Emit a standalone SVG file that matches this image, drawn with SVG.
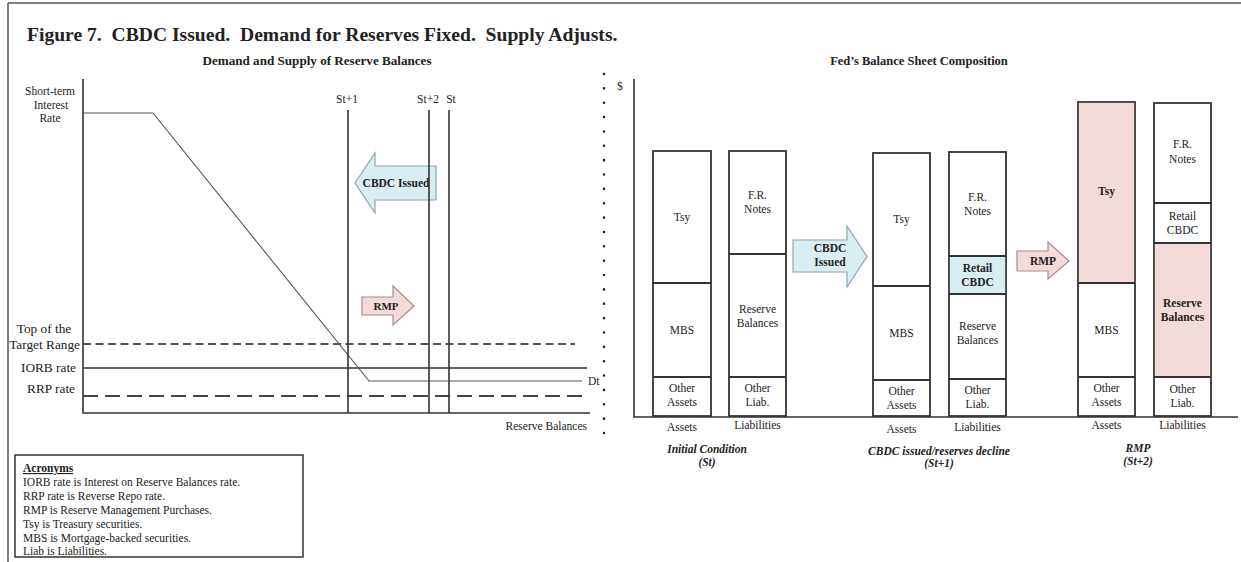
<svg xmlns="http://www.w3.org/2000/svg" width="1241" height="562" viewBox="0 0 1241 562">
<style>
text{font-family:"Liberation Serif","Times New Roman",serif;fill:#222;}
.t{font-size:19.6px;font-weight:bold;}
.h{font-size:12.5px;font-weight:bold;text-anchor:middle;}
.s{font-size:11.5px;}
.m{font-size:11.5px;text-anchor:middle;}
.l{font-size:13.3px;}
.b{font-size:11.5px;font-weight:bold;text-anchor:middle;}
.bi{font-size:11.5px;font-weight:bold;font-style:italic;text-anchor:middle;}
.ax{stroke:#333;stroke-width:1.6;fill:none;}
.bar{stroke:#333;stroke-width:1.8;fill:#fff;}
.div{stroke:#333;stroke-width:1.8;}
.blue{fill:#daedf3;}
.pink{fill:#f2dbd8;}
.arrB{fill:#daedf3;stroke:#8aa6b1;stroke-width:1.2;}
.arrP{fill:#f2dbd8;stroke:#a98c89;stroke-width:1.2;}
</style>

<g id="frame">
<line x1="8" y1="3" x2="1241" y2="3" stroke="#555" stroke-width="1.5"/>
<line x1="8" y1="3" x2="8" y2="562" stroke="#555" stroke-width="1.5"/>
</g>

<text class="t" x="27" y="41" xml:space="preserve">Figure 7.  CBDC Issued.  Demand for Reserves Fixed.  Supply Adjusts.</text>

<g id="left-chart">
<text class="h" x="317" y="65" textLength="229" lengthAdjust="spacingAndGlyphs">Demand and Supply of Reserve Balances</text>
<text class="m" x="50" y="95">Short-term</text>
<text class="m" x="51" y="109">Interest</text>
<text class="m" x="50" y="122">Rate</text>
<text class="l" x="44" y="333" text-anchor="middle">Top of the</text>
<text class="l" x="80" y="349" text-anchor="end">Target Range</text>
<text class="l" x="76" y="372" text-anchor="end">IORB rate</text>
<text class="l" x="75" y="393" text-anchor="end">RRP rate</text>
<text class="s" x="587" y="430" text-anchor="end">Reserve Balances</text>
<text class="s" x="588" y="385">Dt</text>
<text class="m" x="347" y="103">St+1</text>
<text class="m" x="428" y="103">St+2</text>
<text class="m" x="451" y="103">St</text>

<line x1="83" y1="344" x2="575" y2="344" stroke="#555" stroke-width="2" stroke-dasharray="8 4.5"/>
<line x1="83" y1="368" x2="587" y2="368" stroke="#333" stroke-width="1.6"/>
<line x1="83" y1="396" x2="587" y2="396" stroke="#444" stroke-width="2" stroke-dasharray="15 7"/>
<polyline points="83,113 153,113 369,381 582,381" fill="none" stroke="#555" stroke-width="1.1"/>
</g>

<g id="left-arrows">
<polygon class="arrB" points="355,183 375,153 375,166 436,166 436,200 375,200 375,213"/>
<text class="b" x="396" y="187">CBDC Issued</text>
<polygon class="arrP" points="362,297 393,297 393,286 414,306 393,325 393,315 362,315"/>
<text class="b" x="386" y="310" style="font-size:11px">RMP</text>
</g>

<g id="supply-lines">
<line class="ax" x1="348" y1="110" x2="348" y2="413"/>
<line class="ax" x1="429" y1="110" x2="429" y2="413"/>
<line class="ax" x1="449" y1="110" x2="449" y2="413"/>
<polyline class="ax" points="83,79 83,413 590,413"/>
</g>

<g id="separator">
<line x1="604" y1="74" x2="604" y2="434" stroke="#222" stroke-width="2.6" stroke-linecap="round" stroke-dasharray="0 14.36"/>
</g>

<g id="acronyms">
<rect x="15" y="455" width="288" height="102" fill="#fff" stroke="#333" stroke-width="1.5"/>
<text class="s" x="23" y="472" font-weight="bold" text-decoration="underline">Acronyms</text>
<text class="s" x="23" y="486">IORB rate is Interest on Reserve Balances rate.</text>
<text class="s" x="23" y="500">RRP rate is Reverse Repo rate.</text>
<text class="s" x="23" y="514">RMP is Reserve Management Purchases.</text>
<text class="s" x="23" y="527.5">Tsy is Treasury securities.</text>
<text class="s" x="23" y="541.5">MBS is Mortgage-backed securities.</text>
<text class="s" x="23" y="555">Liab is Liabilities.</text>
</g>

<g id="right-chart">
<text class="h" x="919" y="65">Fed’s Balance Sheet Composition</text>
<text class="s" x="617" y="90">$</text>
<polyline class="ax" points="634,79 634,417 1238,417"/>
</g>

<g id="bar-assets-st">
<rect class="bar" x="653" y="151" width="58" height="265"/>
<line class="div" x1="653" y1="283" x2="711" y2="283"/>
<line class="div" x1="653" y1="377" x2="711" y2="377"/>
<text class="m" x="682" y="221">Tsy</text>
<text class="m" x="682" y="334">MBS</text>
<text class="m" x="682" y="392">Other</text>
<text class="m" x="682" y="406">Assets</text>
<text class="m" x="682" y="431">Assets</text>
</g>

<g id="bar-liab-st">
<rect class="bar" x="729" y="151" width="57" height="265"/>
<line class="div" x1="729" y1="254" x2="786" y2="254"/>
<line class="div" x1="729" y1="377" x2="786" y2="377"/>
<text class="m" x="757.5" y="199">F.R.</text>
<text class="m" x="757.5" y="213">Notes</text>
<text class="m" x="757.5" y="313">Reserve</text>
<text class="m" x="757.5" y="327">Balances</text>
<text class="m" x="757.5" y="392">Other</text>
<text class="m" x="757.5" y="406">Liab.</text>
<text class="m" x="757.5" y="429">Liabilities</text>
</g>
<text class="bi" x="707" y="453">Initial Condition</text>
<text class="bi" x="707" y="466">(St)</text>

<g id="arrow-cbdc">
<polygon class="arrB" points="793,240 847,240 847,226 867,256.5 847,287 847,272 793,272"/>
<text class="b" x="830" y="252">CBDC</text>
<text class="b" x="830" y="266">Issued</text>
</g>

<g id="bar-assets-st1">
<rect class="bar" x="873" y="153" width="57" height="263"/>
<line class="div" x1="873" y1="286" x2="930" y2="286"/>
<line class="div" x1="873" y1="380" x2="930" y2="380"/>
<text class="m" x="901.5" y="223">Tsy</text>
<text class="m" x="901.5" y="337">MBS</text>
<text class="m" x="901.5" y="395">Other</text>
<text class="m" x="901.5" y="409">Assets</text>
<text class="m" x="901.5" y="433">Assets</text>
</g>

<g id="bar-liab-st1">
<rect class="bar" x="949" y="152" width="57" height="264"/>
<rect class="blue" x="949.9" y="256" width="55.2" height="38"/>
<line class="div" x1="949" y1="256" x2="1006" y2="256"/>
<line class="div" x1="949" y1="294" x2="1006" y2="294"/>
<line class="div" x1="949" y1="379" x2="1006" y2="379"/>
<text class="m" x="977.5" y="201">F.R.</text>
<text class="m" x="977.5" y="215">Notes</text>
<text class="b" x="977.5" y="272">Retail</text>
<text class="b" x="977.5" y="286">CBDC</text>
<text class="m" x="977.5" y="330">Reserve</text>
<text class="m" x="977.5" y="344">Balances</text>
<text class="m" x="977.5" y="394">Other</text>
<text class="m" x="977.5" y="408">Liab.</text>
<text class="m" x="977.5" y="431">Liabilities</text>
</g>
<text class="bi" x="939" y="455">CBDC issued/reserves decline</text>
<text class="bi" x="939" y="467">(St+1)</text>

<g id="arrow-rmp">
<polygon class="arrP" points="1017,251 1048,251 1048,242 1069,261 1048,279 1048,271 1017,271"/>
<text class="b" x="1043" y="265">RMP</text>
</g>

<g id="bar-assets-st2">
<rect class="bar" x="1078" y="102" width="57" height="314"/>
<rect class="pink" x="1078.9" y="102.9" width="55.2" height="180"/>
<line class="div" x1="1078" y1="283" x2="1135" y2="283"/>
<line class="div" x1="1078" y1="377" x2="1135" y2="377"/>
<text class="b" x="1106.5" y="195">Tsy</text>
<text class="m" x="1106.5" y="334">MBS</text>
<text class="m" x="1106.5" y="392">Other</text>
<text class="m" x="1106.5" y="406">Assets</text>
<text class="m" x="1106.5" y="429">Assets</text>
</g>

<g id="bar-liab-st2">
<rect class="bar" x="1154" y="103" width="57" height="313"/>
<rect class="pink" x="1154.9" y="243" width="55.2" height="134"/>
<line class="div" x1="1154" y1="203" x2="1211" y2="203" stroke-width="2.4"/>
<line class="div" x1="1154" y1="243" x2="1211" y2="243"/>
<line class="div" x1="1154" y1="377" x2="1211" y2="377"/>
<text class="m" x="1182.5" y="148">F.R.</text>
<text class="m" x="1182.5" y="163">Notes</text>
<text class="m" x="1182.5" y="220">Retail</text>
<text class="m" x="1182.5" y="234">CBDC</text>
<text class="b" x="1182.5" y="307">Reserve</text>
<text class="b" x="1182.5" y="321">Balances</text>
<text class="m" x="1182.5" y="393">Other</text>
<text class="m" x="1182.5" y="407">Liab.</text>
<text class="m" x="1182.5" y="429">Liabilities</text>
</g>
<text class="bi" x="1138" y="452">RMP</text>
<text class="bi" x="1138" y="465">(St+2)</text>
</svg>
